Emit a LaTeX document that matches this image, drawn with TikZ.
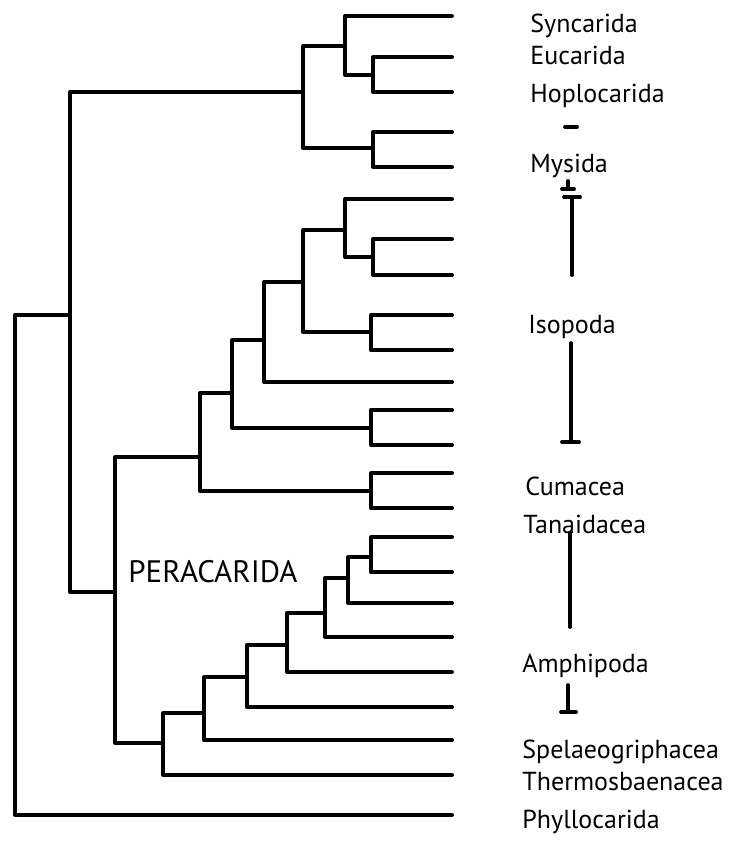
\documentclass[tikz,border=0pt]{standalone}
\usepackage{fontspec}
\setmainfont{PT Sans}
\usetikzlibrary{calc}

\begin{document}
\begin{tikzpicture}[
  x=0.5pt, y=-0.5pt,
  branch/.style={
    line width=2pt,
    line cap=round,
    line join=round
  },
  rangebar/.style={line width=1.9pt, line cap=round},
  taxon/.style={
    anchor=base west,
    inner sep=0pt,
    font=\fontsize{13}{15}\selectfont
  },
  clade/.style={
    anchor=base west,
    inner sep=0pt,
    font=\fontsize{15.5}{17}\selectfont
  }
]

\useasboundingbox (0,0) rectangle (733,845);

% ==================== LEAF TIPS ====================
\coordinate (L1) at (452,16);   \coordinate (L2) at (452,57);
\coordinate (L3) at (452,92);   \coordinate (L4) at (452,132);
\coordinate (L5) at (452,167);  \coordinate (L6) at (452,199);
\coordinate (L7) at (452,239);  \coordinate (L8) at (452,275);
\coordinate (L9) at (452,315);  \coordinate (L10) at (452,350);
\coordinate (L11) at (452,382); \coordinate (L12) at (452,410);
\coordinate (L13) at (452,445); \coordinate (L14) at (452,473);
\coordinate (L15) at (452,508); \coordinate (L16) at (452,537);
\coordinate (L17) at (452,572); \coordinate (L18) at (452,603);
\coordinate (L19) at (452,637); \coordinate (L20) at (452,672);
\coordinate (L21) at (452,707); \coordinate (L22) at (452,740);
\coordinate (L23) at (452,775); \coordinate (L24) at (452,815);

% ==================== INNER NODES ====================
% top clade
\coordinate (a23) at (373,75);
\coordinate (a123) at (345,46);
\coordinate (a45) at (373,148);
\coordinate (nA) at (303,92);

% isopoda / cumacea part
\coordinate (i78) at (373,257);
\coordinate (i678) at (345,230);
\coordinate (i910) at (371,332);
\coordinate (iX1) at (303,282);
\coordinate (iX2) at (264,340);
\coordinate (i1213) at (371,428);
\coordinate (iX3) at (232,393);
\coordinate (i1415) at (371,491);
\coordinate (iX4) at (200,457);

% amphipoda ladder
\coordinate (m1617) at (371,557);
\coordinate (m18) at (348,578);
\coordinate (m19) at (325,613);
\coordinate (m20) at (287,645);
\coordinate (m21) at (247,677);
\coordinate (m22) at (204,713);
\coordinate (m23) at (163,743);

% backbone
\coordinate (nP) at (115,592);
\coordinate (nI) at (70,315);
\coordinate (nR) at (15,315);

% ==================== BRANCHES ====================
\draw[branch] (a23) |- (L2) (a23) |- (L3);
\draw[branch] (a123) |- (L1) (a123) |- (a23);
\draw[branch] (a45) |- (L4) (a45) |- (L5);
\draw[branch] (nA) |- (a123) (nA) |- (a45);

\draw[branch] (i78) |- (L7) (i78) |- (L8);
\draw[branch] (i678) |- (L6) (i678) |- (i78);
\draw[branch] (i910) |- (L9) (i910) |- (L10);
\draw[branch] (iX1) |- (i678) (iX1) |- (i910);
\draw[branch] (iX2) |- (iX1) (iX2) |- (L11);
\draw[branch] (i1213) |- (L12) (i1213) |- (L13);
\draw[branch] (iX3) |- (iX2) (iX3) |- (i1213);
\draw[branch] (i1415) |- (L14) (i1415) |- (L15);
\draw[branch] (iX4) |- (iX3) (iX4) |- (i1415);

\draw[branch] (m1617) |- (L16) (m1617) |- (L17);
\draw[branch] (m18) |- (m1617) (m18) |- (L18);
\draw[branch] (m19) |- (m18) (m19) |- (L19);
\draw[branch] (m20) |- (m19) (m20) |- (L20);
\draw[branch] (m21) |- (m20) (m21) |- (L21);
\draw[branch] (m22) |- (m21) (m22) |- (L22);
\draw[branch] (m23) |- (m22) (m23) |- (L23);

\draw[branch] (nP) |- (iX4) (nP) |- (m23);
\draw[branch] (nI) |- (nA) (nI) |- (nP);
\draw[branch] (nR) |- (nI) (nR) |- (L24);

% clade label
\node[clade] (peracarida) at (128,582) {PERACARIDA};

% ==================== TAXON NAMES ====================
\node[taxon] (syncarida) at (530,33) {Syncarida};
\node[taxon] (eucarida) at (530,65) {Eucarida};
\node[taxon] (hoplocarida) at (530,103) {Hoplocarida};
\node[taxon] (mysida) at (530,173) {Mysida};
\node[taxon] (isopoda) at (528,333) {Isopoda};
\node[taxon] (cumacea) at (525,495) {Cumacea};
\node[taxon] (tanaidacea) at (523,533) {Tanaidacea};
\node[taxon] (amphipoda) at (522,672) {Amphipoda};
\node[taxon] (spelaeo) at (522,758) {Spelaeogriphacea};
\node[taxon] (thermo) at (522,790) {Thermosbaenacea};
\node[taxon] (phyllo) at (522,828) {Phyllocarida};

% ==================== RANGE BARS ====================
\coordinate (myTop) at (571,127);
\coordinate (myEnd) at (568,189);
\coordinate (isTop) at (572,197);
\coordinate (isMid) at (572,275);
\coordinate (isLow) at (571,343);
\coordinate (isEnd) at (571,442);
\coordinate (amTop) at (570,533);
\coordinate (amMid) at (570,627);
\coordinate (amLow) at (568,685);
\coordinate (amEnd) at (568,712);

% mysida
\draw[rangebar] ($(myTop)+(-6,0)$) -- ($(myTop)+(6,0)$);
\draw[rangebar] ($(myEnd)+(0,-8)$) -- (myEnd);
\draw[rangebar] ($(myEnd)+(-6,0)$) -- ($(myEnd)+(6,0)$);

% isopoda
\draw[rangebar] ($(isTop)+(-8,0)$) -- ($(isTop)+(8,0)$);
\draw[rangebar] (isTop) -- (isMid);
\draw[rangebar] (isLow) -- (isEnd);
\draw[rangebar] ($(isEnd)+(-9,0)$) -- ($(isEnd)+(8,0)$);

% amphipoda
\draw[rangebar] (amTop) -- (amMid);
\draw[rangebar] (amLow) -- (amEnd);
\draw[rangebar] ($(amEnd)+(-7,0)$) -- ($(amEnd)+(8,0)$);

\end{tikzpicture}
\end{document}
